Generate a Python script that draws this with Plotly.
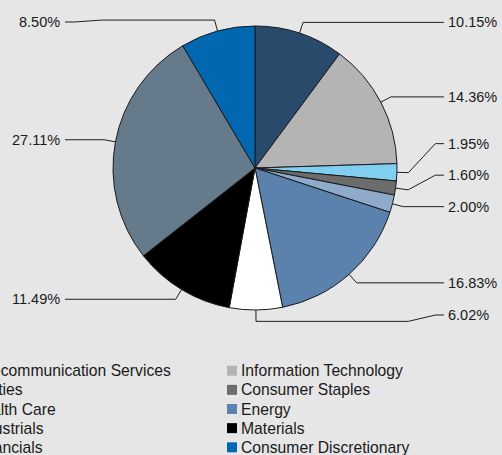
import math
import plotly.graph_objects as go

# ---------------- data ----------------
sectors = [
    "Telecommunication Services", "Information Technology", "Utilities",
    "Consumer Staples", "Health Care", "Energy", "Industrials",
    "Materials", "Financials", "Consumer Discretionary",
]
weights = [10.15, 14.36, 1.95, 1.60, 2.00, 16.83, 6.02, 11.49, 27.11, 8.50]
colors = [
    "#294a6b", "#b4b4b4", "#80cff0", "#6c6c6c", "#8fabcb",
    "#5a82ad", "#ffffff", "#000000", "#657b8b", "#0067b0",
]

# ---------------- layout constants (pixels) ----------------
W, H = 502, 455
CX, CY, R = 255, 168, 142
ELBOW = 1.08          # radial factor for leader elbow
GAP = 31.5            # min vertical spacing between labels on a side
Y_MIN, Y_MAX = 22, 315
RIGHT_LINE_END, RIGHT_TEXT_X = 444, 446
LEFT_LINE_END, LEFT_TEXT_X = 65, 62
LEG_X0, LEG_DX = -37, 269      # centre of first-column swatch, column step
LEG_Y0, LEG_DY = 370.7, 19.15
SWATCH = 10
FONT = "Liberation Sans, Arial, Helvetica, sans-serif"


def px(x):
    return x / W


def py(y):
    return 1 - y / H


fig = go.Figure()

fig.add_trace(go.Pie(
    labels=sectors, values=weights, sort=False, direction="clockwise",
    rotation=0, textinfo="none", hoverinfo="skip", showlegend=False,
    marker=dict(colors=colors, line=dict(color="#1a1a1a", width=1)),
    domain=dict(x=[px(CX - R), px(CX + R)], y=[py(CY + R), py(CY - R)]),
))

# ---------------- leader lines + labels ----------------
total = sum(weights)
items = []
cum = 0.0
for name, w in zip(sectors, weights):
    a = (cum + w / 2) / total * 2 * math.pi
    cum += w
    s, c = math.sin(a), math.cos(a)
    sx, sy = CX + R * s, CY - R * c
    ex, ey = CX + ELBOW * R * s, CY - ELBOW * R * c
    side = "right" if s >= 0 else "left"
    ly = min(max(ey, Y_MIN), Y_MAX)
    items.append(dict(w=w, sx=sx, sy=sy, ex=ex, ey=ey, side=side, ly=ly))

for side in ("right", "left"):
    grp = sorted([it for it in items if it["side"] == side], key=lambda d: -d["ly"])
    for prev, cur in zip(grp, grp[1:]):
        cur["ly"] = min(cur["ly"], prev["ly"] - GAP)
    grp.reverse()
    for prev, cur in zip(grp, grp[1:]):
        if cur["ly"] < Y_MIN:
            cur["ly"] = max(cur["ly"], prev["ly"] + GAP)

shapes = []
annotations = []
for it in items:
    right = it["side"] == "right"
    pts = [(it["sx"], it["sy"]), (it["ex"], it["ey"])]
    end_x = RIGHT_LINE_END if right else LEFT_LINE_END
    if abs(it["ly"] - it["ey"]) > 1:
        bend = max(it["ex"], CX + ELBOW * R) if right else min(it["ex"], CX - ELBOW * R)
        step = 27 if right else -27
        pts += [(bend, it["ey"]), (bend + step, it["ly"])]
    else:
        pts[-1] = (it["ex"], it["ly"])
    pts.append((end_x, it["ly"]))
    path = "M " + " L ".join(f"{px(x):.5f},{py(y):.5f}" for x, y in pts)
    shapes.append(dict(type="path", path=path, xref="paper", yref="paper",
                       line=dict(color="#1e1e1e", width=1)))
    annotations.append(dict(
        x=px(RIGHT_TEXT_X if right else LEFT_TEXT_X), y=py(it["ly"]),
        xref="paper", yref="paper",
        text=f"{it['w']:.2f}%", showarrow=False,
        xanchor="left" if right else "right", yanchor="middle",
        font=dict(family=FONT, size=14.5, color="#1a1a1a"),
    ))

# ---------------- legend (two columns, row-wise) ----------------
for i, (name, col) in enumerate(zip(sectors, colors)):
    cx = LEG_X0 + (i % 2) * LEG_DX
    cy = LEG_Y0 + (i // 2) * LEG_DY
    shapes.append(dict(
        type="rect", xref="paper", yref="paper",
        x0=px(cx - SWATCH / 2), x1=px(cx + SWATCH / 2),
        y0=py(cy + SWATCH / 2), y1=py(cy - SWATCH / 2),
        fillcolor=col, line=dict(width=0),
    ))
    annotations.append(dict(
        x=px(cx + SWATCH / 2 + 2), y=py(cy), xref="paper", yref="paper",
        text=name, showarrow=False, xanchor="left", yanchor="middle",
        font=dict(family=FONT, size=15.7, color="#1a1a1a"),
    ))

fig.update_layout(
    width=W, height=H,
    margin=dict(l=0, r=0, t=0, b=0, autoexpand=False),
    paper_bgcolor="#e6e6e6", plot_bgcolor="rgba(0,0,0,0)",
    xaxis=dict(visible=False, fixedrange=True),
    yaxis=dict(visible=False, fixedrange=True),
    shapes=shapes, annotations=annotations, showlegend=False,
    font=dict(family=FONT),
)

fig.write_html(
    "out.html",
    config={"displayModeBar": False},
    post_script="document.body.style.margin='0px';document.body.style.overflow='hidden';",
)
